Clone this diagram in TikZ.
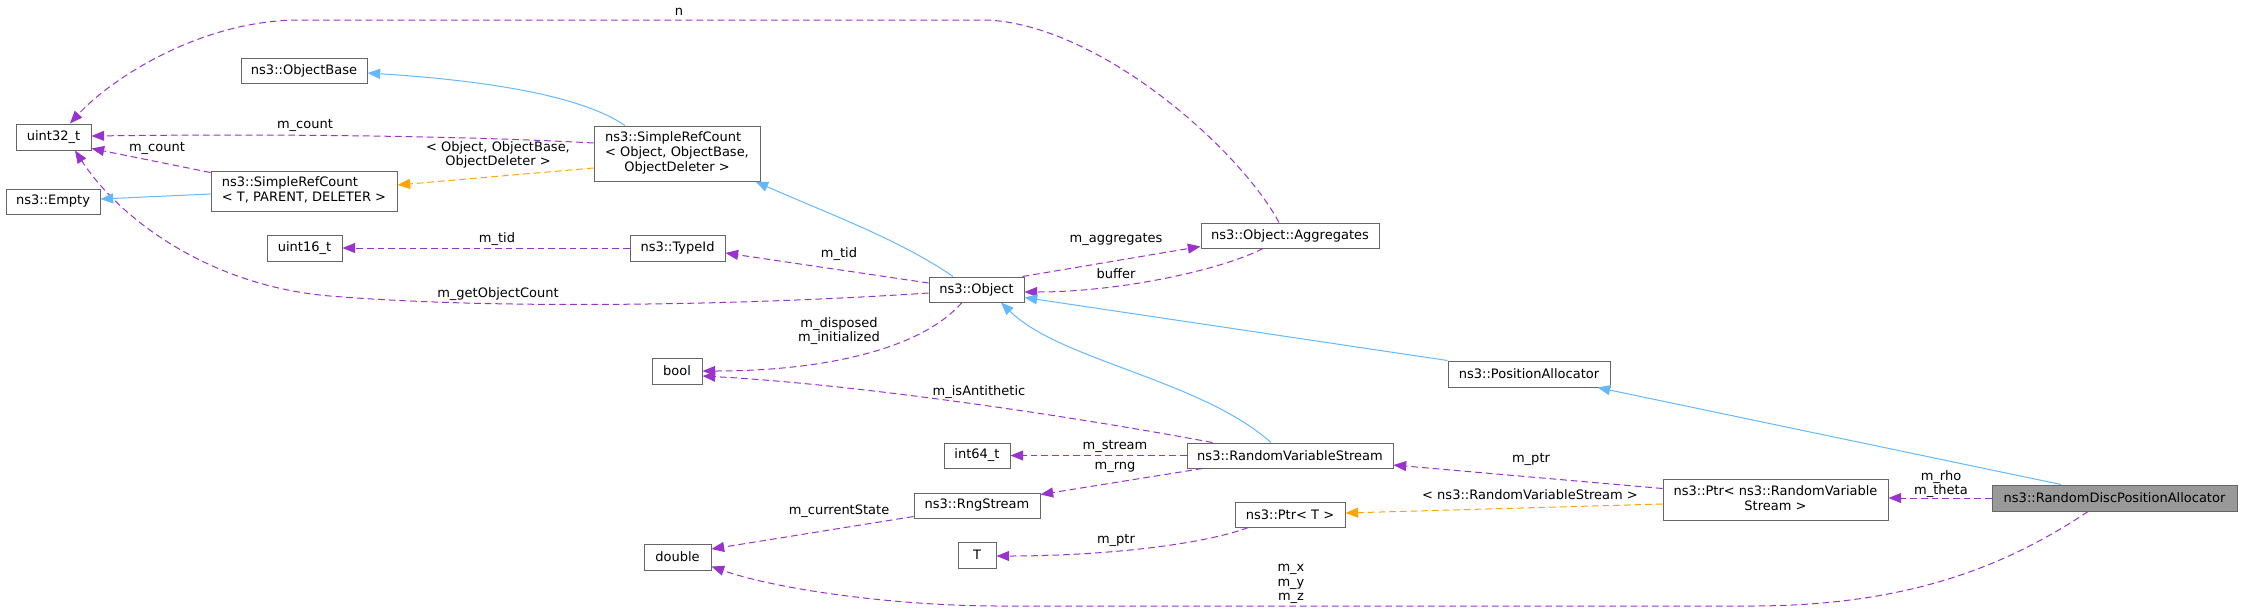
\documentclass[tikz,border=0pt]{standalone}
\usepackage{fontspec}
\setmainfont{DejaVu Sans}
\usepackage{tikz}
\usetikzlibrary{calc}
\usetikzlibrary{arrows.meta}
\definecolor{nodeborder}{HTML}{666666}
\definecolor{nodemain}{HTML}{999999}
\definecolor{edgemember}{HTML}{9A32CD}
\definecolor{edgeinherit}{HTML}{63B8FF}
\definecolor{edgetmpl}{HTML}{FFA500}
\tikzset{
 box/.style={draw=nodeborder, line width=0.75pt, fill=white, inner sep=0pt, font=\fontsize{9.75}{11}\selectfont},
 mainbox/.style={box, fill=nodemain},
 sz/.style 2 args={minimum width=#1*0.75pt, minimum height=#2*0.75pt},
 member/.style={draw=edgemember, line width=0.75pt, dash pattern=on 5pt off 3pt, -{Triangle[length=9.5pt,width=7.5pt]}},
 inherit/.style={draw=edgeinherit, line width=0.75pt, -{Triangle[length=9.5pt,width=7.5pt]}},
 tmpl/.style={draw=edgetmpl, line width=0.75pt, dash pattern=on 5pt off 3pt, -{Triangle[length=9.5pt,width=7.5pt]}},
 lbl/.style={inner sep=0pt, align=center, font=\fontsize{9.75}{11}\selectfont}
}
\begin{document}
\begin{tikzpicture}[x=0.75pt,y=-0.75pt]
\useasboundingbox (0,0) rectangle (2243,608);
\node[box, sz={75}{26}] (u32) at (53.5,137) {uint32\_t};
\node[box, sz={94}{25}] (empty) at (53,201.5) {ns3::Empty};
\node[box, sz={126}{25}] (objbase) at (304,70.5) {ns3::ObjectBase};
\node[box, sz={186}{40}] (srct) at (304,191) {\begin{tabular}{@{}l@{}}ns3::SimpleRefCount\\< T, PARENT, DELETER >\end{tabular}};
\node[box, sz={75}{26}] (u16) at (304.5,248) {uint16\_t};
\node[box, sz={166}{55}] (srcobj) at (677,153.5) {\begin{tabular}{@{}l@{}}ns3::SimpleRefCount\\< Object, ObjectBase,\\\multicolumn{1}{@{}c@{}}{ObjectDeleter >}\end{tabular}};
\node[box, sz={95}{26}] (typeid) at (677.5,248) {ns3::TypeId};
\node[box, sz={50}{26}] (bool) at (677,371) {bool};
\node[box, sz={67}{26}] (double) at (677.5,557) {double};
\node[box, sz={95}{25}] (object) at (976.5,289.5) {ns3::Object};
\node[box, sz={66}{25}] (int64) at (977,455.5) {int64\_t};
\node[box, sz={126}{25}] (rng) at (977,505.5) {ns3::RngStream};
\node[box, sz={38}{26}] (tparam) at (977,555) {T};
\node[box, sz={178}{25}] (agg) at (1290,235.5) {ns3::Object::Aggregates};
\node[box, sz={206}{25}] (rvs) at (1290,455.5) {ns3::RandomVariableStream};
\node[box, sz={110}{25}] (ptrt) at (1290,514.5) {ns3::Ptr< T >};
\node[box, sz={162}{26}] (posalloc) at (1529,374) {ns3::PositionAllocator};
\node[box, sz={225}{41}] (ptrrvs) at (1775.5,500) {\begin{tabular}{@{}l@{}}ns3::Ptr< ns3::RandomVariable\\\multicolumn{1}{@{}c@{}}{Stream >}\end{tabular}};
\node[mainbox, sz={245}{26}] (rdpa) at (2114.5,498) {ns3::RandomDiscPositionAllocator};

\draw[member] ($(agg.north)+(-11,0)$) .. controls +(-39,-73) and +(113,5) .. (987,20) -- (300,20) .. controls +(-100,0) and +(40,-44) .. ($(u32.north)+(16.5,0)$);
\draw[member] ($(srcobj.west)+(0,-10.5)$) .. controls +(-144,-8) and +(159,-2) .. ($(u32.east)+(0,-1)$);
\draw[member] ($(srct.north west)+(0,2)$) -- ($(u32.south east)+(0,-2)$);
\draw[member] ($(object.west)+(0,3.5)$) .. controls +(-179,12) and +(170,14) .. (330,296) .. controls +(-120,-10) and +(45,69) .. ($(u32.south)+(21.5,0)$);
\draw[inherit] ($(srct.west)+(0,3)$) -- ($(empty.east)+(0,-2.5)$);
\draw[tmpl] ($(srcobj.west)+(0,14.5)$) -- ($(srct.east)+(0,-6)$);
\draw[inherit] ($(srcobj.north)+(-52,0)$) .. controls +(-45,-31) and +(112,7) .. ($(objbase.east)+(0,2.5)$);
\draw[inherit] ($(object.north)+(-23.5,0)$) .. controls +(-53,-37) and +(65,29) .. ($(srcobj.south east)+(-5,0)$);
\draw[member] ($(object.west)+(0,-6.5)$) -- ($(typeid.east)+(0,5)$);
\draw[member] (typeid.west) -- (u16.east);
\draw[member] ($(object.north east)+(-2,0)$) -- ($(agg.south west)+(0,-2)$);
\draw[member] ($(agg.south)+(-27,0)$) .. controls +(-43,22) and +(94,0) .. ($(object.east)+(0,2.5)$);
\draw[member] ($(object.south)+(-14.5,0)$) .. controls +(-42,48) and +(118,0) .. (bool.east);
\draw[member] ($(rvs.north west)+(26,0)$) .. controls +(-150,-28) and +(150,8) .. ($(bool.east)+(0,5)$);
\draw[inherit] ($(rvs.north)+(-19,0)$) .. controls +(-71,-63) and +(59,58) .. ($(object.south)+(24.5,0)$);
\draw[inherit] (posalloc.north west) -- ($(object.east)+(0,8)$);
\draw[inherit] ($(rdpa.north)+(-53.5,0)$) -- ($(posalloc.south east)+(-13,0)$);
\draw[member] (rvs.west) -- (int64.east);
\draw[member] ($(rvs.south west)+(16,0)$) -- ($(rng.north east)+(0,2)$);
\draw[member] ($(rng.south west)+(0,-2)$) -- ($(double.east)+(0,-8)$);
\draw[member] ($(ptrrvs.west)+(0,-11.5)$) -- ($(rvs.east)+(0,9.5)$);
\draw[tmpl] ($(ptrrvs.west)+(0,4)$) -- ($(ptrt.east)+(0,-1.5)$);
\draw[member] ($(ptrt.south west)+(14,0)$) .. controls +(-49,18) and +(103,0) .. ($(tparam.east)+(0,1)$);
\draw[member] (rdpa.west) -- ($(ptrrvs.east)+(0,-2)$);
\draw[member] ($(rdpa.south)+(-26.5,0)$) .. controls +(-88,59) and +(150,0) .. (1750,606) -- (1000,606) .. controls +(-100,0) and +(69,24) .. ($(double.south east)+(0,-4)$);

\node[lbl] (l-n) at (679,12) {n};
\node[lbl] (l-count1) at (305,125) {m\_count};
\node[lbl] (l-count2) at (157,148) {m\_count};
\node[lbl] (l-srcargs) at (498,155) {< Object, ObjectBase,\\ObjectDeleter >};
\node[lbl] (l-tid1) at (497,239) {m\_tid};
\node[lbl] (l-tid2) at (839,254) {m\_tid};
\node[lbl] (l-goc) at (498,294) {m\_getObjectCount};
\node[lbl] (l-aggr) at (1116,239) {m\_aggregates};
\node[lbl] (l-buf) at (1116,274) {buffer};
\node[lbl] (l-disp) at (839,331) {m\_disposed\\m\_initialized};
\node[lbl] (l-anti) at (979,392) {m\_isAntithetic};
\node[lbl] (l-stream) at (1115,446) {m\_stream};
\node[lbl] (l-rng) at (1115,467) {m\_rng};
\node[lbl] (l-state) at (839,511) {m\_currentState};
\node[lbl] (l-ptr1) at (1116,540) {m\_ptr};
\node[lbl] (l-ptr2) at (1531,459) {m\_ptr};
\node[lbl] (l-ptrargs) at (1530,495) {< ns3::RandomVariableStream >};
\node[lbl] (l-rho) at (1941,484) {m\_rho\\m\_theta};
\node[lbl] (l-xyz) at (1291,584) {m\_x\\m\_y\\m\_z};
\end{tikzpicture}
\end{document}
